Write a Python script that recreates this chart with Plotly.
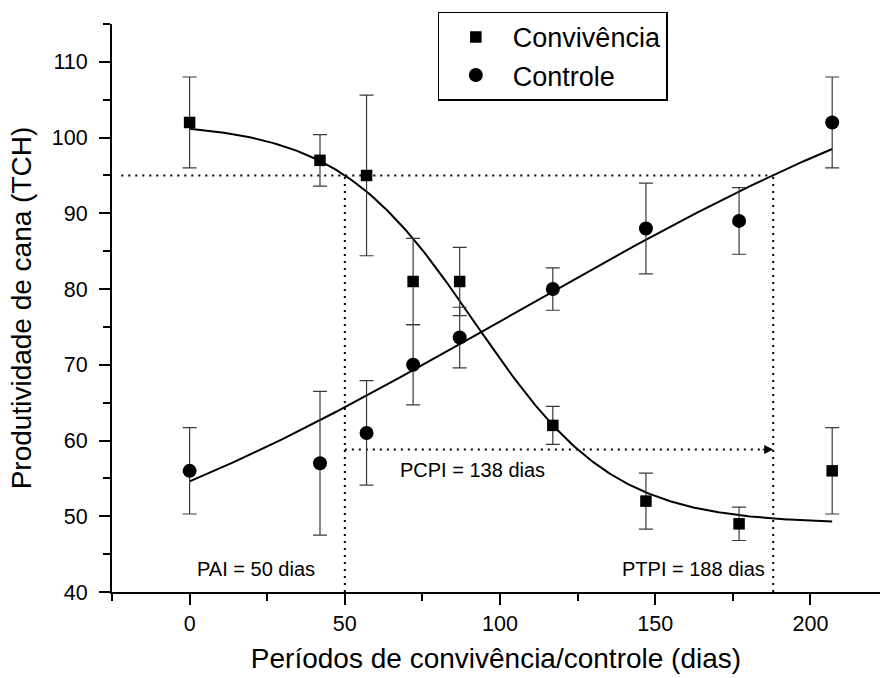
import numpy as np
import plotly.graph_objects as go

# ---- data ----
days = [0, 42, 57, 72, 87, 117, 147, 177, 207]
conv_y = [102, 97, 95, 81, 81, 62, 52, 49, 56]
conv_err = [6.0, 3.4, 10.6, 5.7, 4.5, 2.5, 3.7, 2.2, 5.7]
ctrl_y = [56, 57, 61, 70, 73.6, 80, 88, 89, 102]
ctrl_err = [5.7, 9.5, 6.9, 5.3, 4.0, 2.8, 6.0, 4.4, 6.0]

# fitted model parameters
boltz = dict(A1=102.0, A2=49.0, x0=92.0, dx=22.3)      # Convivência
poly = [54.6, 0.1708, 0.0006, -1.936e-6]               # Controle (cubic)

level_95 = 95
pai = 50
ptpi = 188
pcpi_y = 58.8
labels = ["PAI = 50 dias", "PCPI = 138 dias", "PTPI = 188 dias"]

FONT = "Liberation Sans, Arial, sans-serif"

xf = np.linspace(min(days), max(days), 300)
conv_fit = boltz["A2"] + (boltz["A1"] - boltz["A2"]) / (1 + np.exp((xf - boltz["x0"]) / boltz["dx"]))
ctrl_fit = poly[0] + poly[1] * xf + poly[2] * xf**2 + poly[3] * xf**3

fig = go.Figure()

dot = dict(color="black", width=2, dash="2px,5px")
# dotted guide lines
fig.add_trace(go.Scatter(x=[-22, ptpi], y=[level_95, level_95], mode="lines", line=dot,
                         showlegend=False, hoverinfo="skip"))
fig.add_trace(go.Scatter(x=[pai, pai], y=[40, level_95], mode="lines", line=dot,
                         showlegend=False, hoverinfo="skip"))
fig.add_trace(go.Scatter(x=[ptpi, ptpi], y=[40, level_95], mode="lines", line=dot,
                         showlegend=False, hoverinfo="skip"))
fig.add_trace(go.Scatter(x=[pai, ptpi - 3], y=[pcpi_y, pcpi_y], mode="lines", line=dot,
                         showlegend=False, hoverinfo="skip"))

# fitted curves
fig.add_trace(go.Scatter(x=xf, y=conv_fit, mode="lines", line=dict(color="black", width=2),
                         showlegend=False, hoverinfo="skip"))
fig.add_trace(go.Scatter(x=xf, y=ctrl_fit, mode="lines", line=dict(color="black", width=2),
                         showlegend=False, hoverinfo="skip"))

err_style = dict(type="data", thickness=1.2, width=7, color="#3a3a3a")
fig.add_trace(go.Scatter(x=days, y=conv_y, mode="markers", name="Convivência",
                         marker=dict(symbol="square", size=11.5, color="black"),
                         error_y=dict(array=conv_err, **err_style)))
fig.add_trace(go.Scatter(x=days, y=ctrl_y, mode="markers", name="Controle",
                         marker=dict(symbol="circle", size=14, color="black"),
                         error_y=dict(array=ctrl_err, **err_style)))

# arrow head
fig.add_annotation(x=ptpi, y=pcpi_y, ax=-12, ay=0, axref="pixel", ayref="pixel",
                   text="", showarrow=True, arrowhead=2, arrowsize=1.2, arrowwidth=1.5,
                   arrowcolor="black", standoff=0)

fig.add_annotation(x=21.5, y=43, text=labels[0], showarrow=False,
                   font=dict(family=FONT, size=20, color="black"))
fig.add_annotation(x=91.2, y=56.1, text=labels[1], showarrow=False,
                   font=dict(family=FONT, size=20, color="black"))
fig.add_annotation(x=162.4, y=43, text=labels[2], showarrow=False,
                   font=dict(family=FONT, size=20, color="black"))

axis_common = dict(showline=True, linecolor="black", linewidth=2, ticks="outside",
                   tickcolor="black", tickwidth=2, ticklen=11, showgrid=False, zeroline=False,
                   tickfont=dict(family=FONT, size=21.5, color="black"),
                   mirror=False)

fig.update_xaxes(range=[-25, 222.4], tickvals=[0, 50, 100, 150, 200],
                 minor=dict(tickvals=[-25, 25, 75, 125, 175], ticks="outside", ticklen=7,
                            tickwidth=2, tickcolor="black"),
                 title=dict(text="Períodos de convivência/controle (dias)",
                            font=dict(family=FONT, size=28, color="black"), standoff=14),
                 **axis_common)
fig.update_yaxes(range=[40, 115], tickvals=[40, 50, 60, 70, 80, 90, 100, 110],
                 minor=dict(tickvals=[45, 55, 65, 75, 85, 95, 105, 115], ticks="outside",
                            ticklen=7, tickwidth=2, tickcolor="black"),
                 ticklabelstandoff=7,
                 title=dict(text="Produtividade de cana (TCH)",
                            font=dict(family=FONT, size=28, color="black"), standoff=12),
                 **axis_common)

fig.update_layout(
    width=880, height=678,
    margin=dict(l=112, r=0, t=24, b=86),
    plot_bgcolor="white", paper_bgcolor="white",
    showlegend=True,
    legend=dict(x=0.424, y=1.0217, xanchor="left", yanchor="top",
                bordercolor="black", borderwidth=1.2, bgcolor="white",
                font=dict(family=FONT, size=27, color="black"),
                itemwidth=64, tracegroupgap=0),
)

fig.write_html("out.html", config={"displayModeBar": False},
               post_script="document.body.style.margin='0';")
